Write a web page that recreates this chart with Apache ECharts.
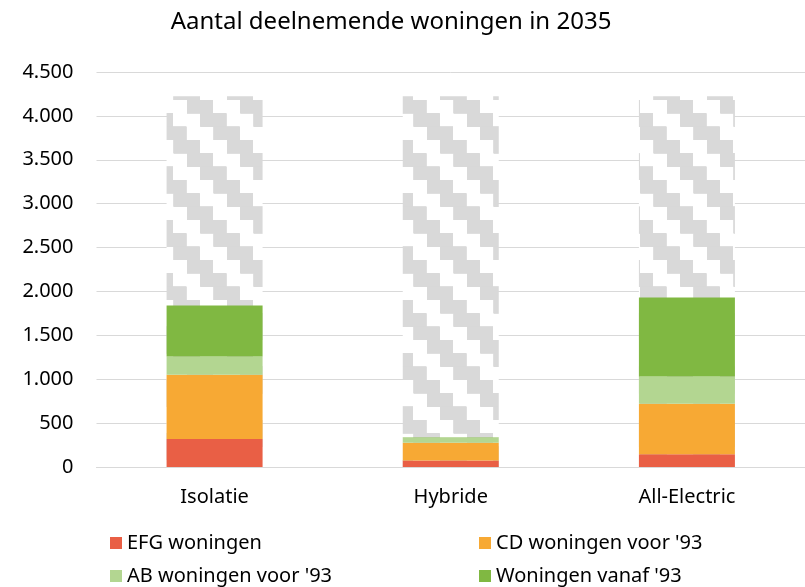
<!DOCTYPE html>
<html>
<head>
<meta charset="utf-8">
<script src="https://cdn.jsdelivr.net/npm/echarts@6/dist/echarts.min.js"></script>
<style>
  html, body { margin: 0; padding: 0; background: #fff; }
  #chart { width: 805px; height: 587px; }
</style>
</head>
<body>
<div id="chart"></div>
<script>
const categories = ['Isolatie', 'Hybride', 'All-Electric'];
const efg = [320, 75, 145];
const cd = [730, 200, 575];
const ab = [210, 60, 310];
const vanaf93 = [580, 5, 900];
const potentieel = [4225, 4225, 4225];
const yTicks = [0, 500, 1000, 1500, 2000, 2500, 3000, 3500, 4000, 4500];

const FONT = 'Noto Sans';

// trapjes-patroon voor de potentieel-balk
function makePattern() {
  const size = 160, step = 160 / 12, period = 160 / 3;
  const c = document.createElement('canvas');
  c.width = size; c.height = size;
  const ctx = c.getContext('2d');
  ctx.fillStyle = '#ffffff';
  ctx.fillRect(0, 0, size, size);
  ctx.fillStyle = '#d9d9d9';
  for (let j = -2; j < 14; j++) {
    const y0 = 6.667 + step * j;
    const x0 = 187 + step * (j - 7);
    for (let m = -6; m < 6; m++) {
      let x = x0 + period * m;
      x = x - Math.floor(x / size) * size;
      ctx.fillRect(x, y0, 26, step);
      ctx.fillRect(x - size, y0, 26, step);
    }
  }
  return c;
}

const chart = echarts.init(document.getElementById('chart'));

const stackSeries = (name, data, color) => ({
  name: name,
  type: 'bar',
  stack: 'woningen',
  barWidth: 96,
  barGap: '-100%',
  data: data,
  itemStyle: { color: color }
});

// één legenda per item, zodat de 2x2 indeling vast ligt
const legendItem = (name, left, top) => ({
  left: left,
  top: top,
  padding: 0,
  itemWidth: 12,
  itemHeight: 12,
  icon: 'rect',
  data: [name],
  textStyle: { fontFamily: FONT, fontSize: 20, color: '#000' }
});

chart.setOption({
  animation: false,
  title: {
    text: 'Aantal deelnemende woningen in 2035',
    left: 386,
    top: 5,
    textAlign: 'center',
    textStyle: { fontFamily: FONT, fontSize: 24, fontWeight: 'normal', color: '#000' }
  },
  legend: [
    legendItem('EFG woningen', 110, 533),
    legendItem("CD woningen voor '93", 479, 533),
    legendItem("AB woningen voor '93", 110, 566),
    legendItem("Woningen vanaf '93", 479, 566)
  ],
  grid: { left: 96.5, right: -10, top: 72, bottom: 120 },
  xAxis: {
    type: 'category',
    data: categories,
    axisLine: { lineStyle: { color: '#d9d9d9', width: 1 } },
    axisTick: { show: false },
    axisLabel: { margin: 20, fontFamily: FONT, fontSize: 20, color: '#000' }
  },
  yAxis: {
    type: 'value',
    min: yTicks[0],
    max: yTicks[yTicks.length - 1],
    interval: 500,
    axisLine: { show: false },
    axisTick: { show: false },
    splitLine: { lineStyle: { color: '#d9d9d9', width: 1 } },
    axisLabel: {
      margin: 23,
      fontFamily: FONT,
      fontSize: 20,
      color: '#000',
      formatter: v => String(v).replace(/\B(?=(\d{3})+(?!\d))/g, '.')
    }
  },
  series: [
    {
      name: 'Potentieel',
      type: 'bar',
      barWidth: 96,
      barGap: '-100%',
      data: potentieel,
      itemStyle: { color: { image: makePattern(), repeat: 'repeat' } }
    },
    stackSeries('EFG woningen', efg, '#e95f45'),
    stackSeries("CD woningen voor '93", cd, '#f7a934'),
    stackSeries("AB woningen voor '93", ab, '#b3d691'),
    stackSeries("Woningen vanaf '93", vanaf93, '#80b842')
  ]
});
</script>
</body>
</html>
